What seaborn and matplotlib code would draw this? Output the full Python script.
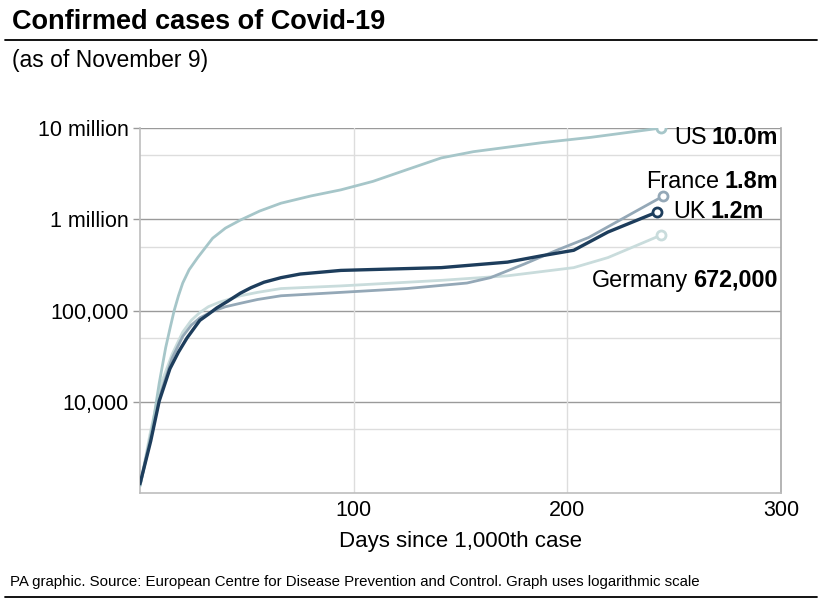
import matplotlib
matplotlib.use("Agg")
import matplotlib.pyplot as plt
import seaborn as sns
import pandas as pd
import numpy as np

# ---- data ----
us_days = [0, 5, 9, 12, 14, 16, 18, 20, 23, 27, 34, 40, 47, 56, 66, 80, 94, 109, 125, 141,
           156, 188, 211, 244]
us_cases = [1200, 4000, 16000, 39000, 63000, 100000, 145000, 200000, 280000, 380000, 620000,
            800000, 980000, 1230000, 1500000, 1800000, 2100000, 2600000, 3500000, 4700000,
            5500000, 6900000, 7900000, 10000000]

france_days = [0, 5, 10, 15, 20, 24, 28, 34, 40, 47, 55, 66, 94, 125, 153, 164, 180, 195, 210,
               230, 245]
france_cases = [1200, 4200, 13000, 30000, 52000, 69000, 83000, 98000, 110000, 120000, 132000,
                145000, 158000, 174000, 200000, 229000, 324000, 457000, 631000, 1150000, 1800000]

uk_days = [0, 5, 9, 14, 18, 22, 28, 32, 36, 41, 47, 52, 58, 66, 75, 94, 141, 172, 188, 203,
           219, 242]
uk_cases = [1260, 3700, 10200, 23000, 35000, 50000, 78000, 91000, 107000, 126000, 155000,
            178000, 204000, 229000, 251000, 275000, 295000, 339000, 398000, 457000, 724000,
            1200000]

germany_days = [0, 5, 10, 15, 20, 24, 28, 32, 37, 47, 55, 66, 94, 141, 172, 203, 219, 244]
germany_cases = [1200, 4800, 16000, 33000, 58000, 78000, 95000, 110000, 123000, 145000,
                 158000, 174000, 186000, 214000, 240000, 295000, 380000, 672000]

countries = ["Germany", "France", "US", "UK"]
label_names = {"US": "US", "France": "France", "UK": "UK", "Germany": "Germany"}
label_values = {"US": "10.0m", "France": "1.8m", "UK": "1.2m", "Germany": "672,000"}

y_ticks = [1e4, 1e5, 1e6, 1e7]
y_ticklabels = ["10,000", "100,000", "1 million", "10 million"]
y_minor = [5e3, 5e4, 5e5, 5e6]
x_ticks = [100, 200, 300]
x_ticklabels = ["100", "200", "300"]

series = {
    "US": (us_days, us_cases),
    "France": (france_days, france_cases),
    "UK": (uk_days, uk_cases),
    "Germany": (germany_days, germany_cases),
}
frames = [pd.DataFrame({"day": d, "cases": c, "country": k}) for k, (d, c) in series.items()]
df = pd.concat(frames, ignore_index=True)

colors = {"US": "#a6c6c9", "France": "#94a8b7", "UK": "#1d3d5c", "Germany": "#c9dcdc"}
widths = {"US": 2.0, "France": 2.0, "UK": 2.4, "Germany": 2.0}

sns.set_theme(style="white")
plt.rcParams["font.family"] = ["Liberation Sans", "DejaVu Sans"]
for k in ["text.color", "axes.labelcolor", "xtick.color", "ytick.color"]:
    plt.rcParams[k] = "black"

W, H = 822, 600
fig = plt.figure(figsize=(W / 100, H / 100), dpi=100)
fig.patch.set_facecolor("white")
ax = fig.add_axes([140 / W, 1 - 493 / H, 641 / W, 365 / H])

ax.set_yscale("log")
ax.set_xlim(0, 300)
ax.set_ylim(1000, 1e7)

# grid lines
for v in y_minor:
    ax.axhline(v, color="#dddddd", lw=1.0, zorder=0)
for v in y_ticks:
    ax.axhline(v, color="#9a9a9a", lw=1.0, zorder=0)
for v in [100, 200]:
    ax.axvline(v, color="#dddddd", lw=1.0, zorder=0)

for c in countries:
    sub = df[df["country"] == c]
    sns.lineplot(data=sub, x="day", y="cases", ax=ax, color=colors[c],
                 linewidth=widths[c], estimator=None, sort=False, zorder=3)
    ax.plot(sub["day"].iloc[-1], sub["cases"].iloc[-1], marker="o", ms=6.5,
            mfc="white", mec=colors[c], mew=2.0, zorder=4)

ax.set_yticks(y_ticks)
ax.set_yticklabels(y_ticklabels)
ax.yaxis.set_minor_locator(matplotlib.ticker.NullLocator())
ax.set_xticks(x_ticks)
ax.set_xticklabels(x_ticklabels)
ax.tick_params(axis="y", length=5, color="#9a9a9a", width=1, labelsize=15.5, pad=3,
               left=True)
ax.tick_params(axis="x", length=0, labelsize=15.5, pad=5)
ax.set_xlabel("Days since 1,000th case", fontsize=16, labelpad=7)
ax.set_ylabel("")

ax.spines["top"].set_visible(False)
ax.spines["left"].set_color("#bdbdbd")
ax.spines["right"].set_color("#a8a8a8")
ax.spines["bottom"].set_color("#bdbdbd")
for s in ["left", "right", "bottom"]:
    ax.spines[s].set_linewidth(1.2)

# titles
fig.text(12 / W, 1 - 22 / H, "Confirmed cases of Covid-19", fontsize=19.5,
         fontweight="bold", va="center", ha="left")
fig.add_artist(plt.Line2D([5 / W, 817 / W], [1 - 40 / H, 1 - 40 / H],
                          color="black", lw=1.3))
fig.text(12 / W, 1 - 61 / H, "(as of November 9)", fontsize=16.5, va="center", ha="left")
fig.text(10 / W, 1 - 582 / H,
         "PA graphic. Source: European Centre for Disease Prevention and Control. Graph uses logarithmic scale",
         fontsize=10.8, va="center", ha="left",
         family=["Liberation Sans Narrow", "Liberation Sans", "DejaVu Sans"])
fig.add_artist(plt.Line2D([5 / W, 817 / W], [1 - 597 / H, 1 - 597 / H],
                          color="black", lw=1.3))

# end labels
fig.canvas.draw()
renderer = fig.canvas.get_renderer()
label_pos = {"US": (778, 138, "right"), "France": (778, 181, "right"),
             "UK": (673, 211, "left"), "Germany": (778, 280, "right")}
LFS = 16.8
for c, (px, py, align) in label_pos.items():
    if align == "right":
        tb = fig.text(px / W, 1 - py / H, label_values[c], fontsize=LFS, fontweight="bold",
                      ha="right", va="center")
        bb = tb.get_window_extent(renderer)
        fig.text((bb.x0 - 5) / W, 1 - py / H, label_names[c], fontsize=LFS,
                 ha="right", va="center")
    else:
        tn = fig.text(px / W, 1 - py / H, label_names[c], fontsize=LFS,
                      ha="left", va="center")
        bb = tn.get_window_extent(renderer)
        fig.text((bb.x1 + 5) / W, 1 - py / H, label_values[c], fontsize=LFS,
                 fontweight="bold", ha="left", va="center")

fig.savefig("out.png", dpi=100, facecolor="white")
